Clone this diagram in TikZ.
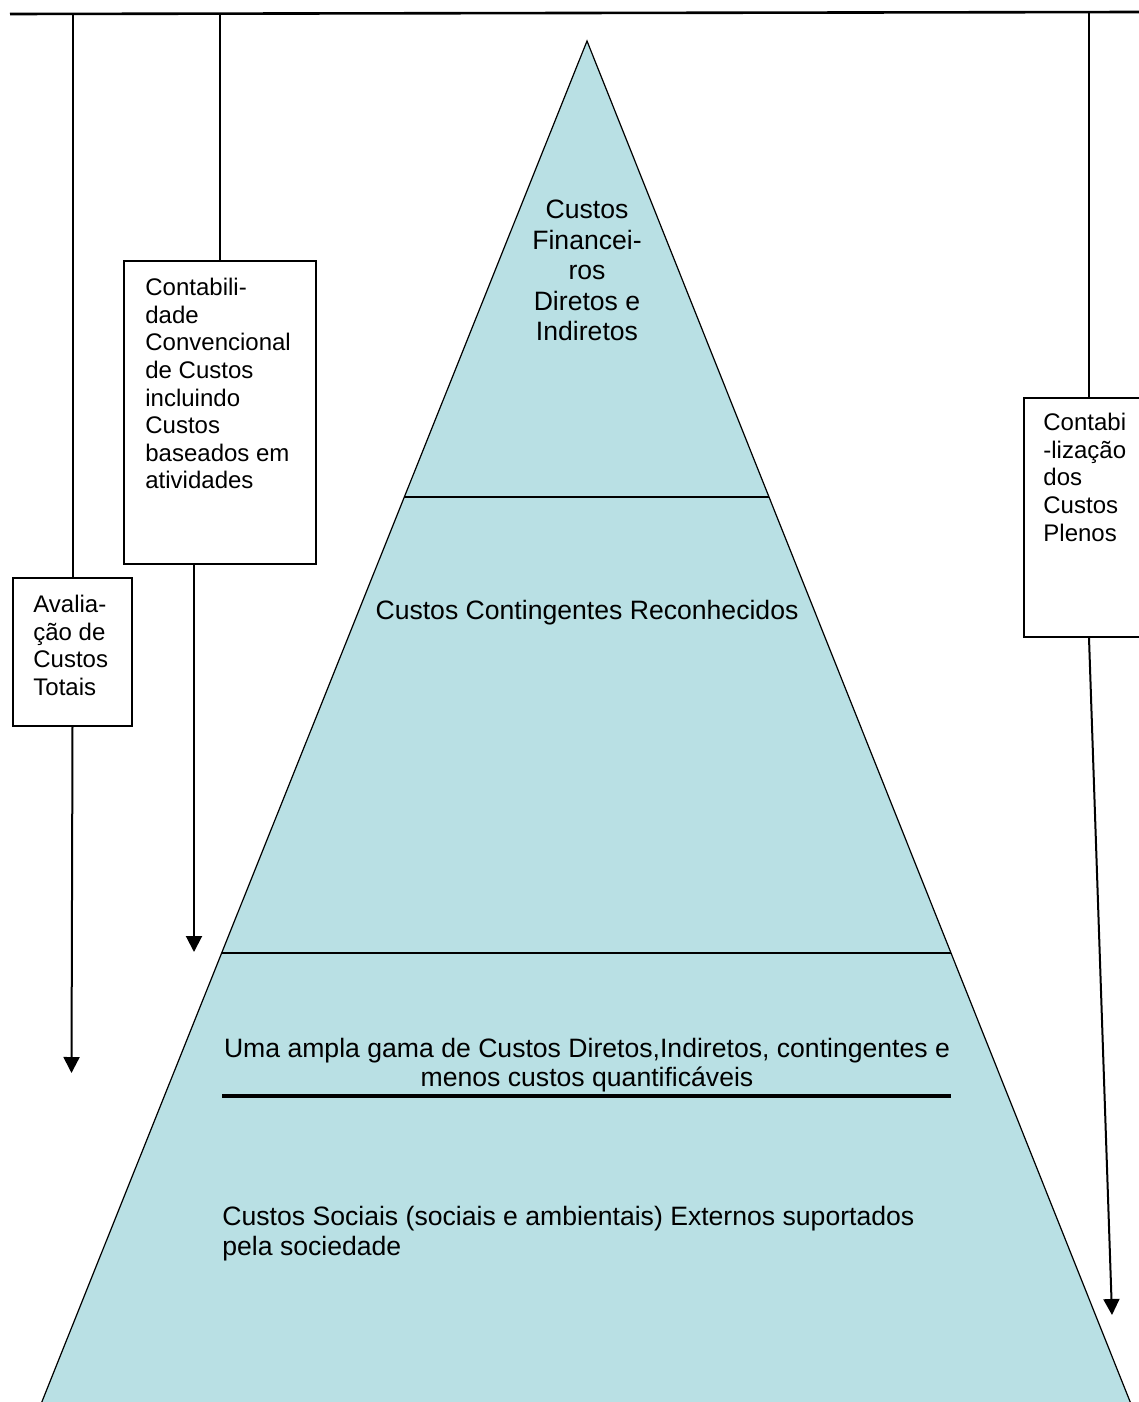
\documentclass[tikz,border=0pt]{standalone}
\usepackage{fontspec}
\setmainfont{Liberation Sans}
\usetikzlibrary{arrows.meta,calc}
\definecolor{pyrblue}{RGB}{185,224,228}

\begin{document}
\begin{tikzpicture}[x=0.5pt,y=-0.5pt,>={Triangle[width=8pt,length=8pt]},
  costbox/.style={draw,line width=1pt,anchor=north west,inner sep=0pt},
  boxtxt/.style={anchor=north west,align=left,inner sep=0pt,font=\fontsize{12}{13.8}\selectfont},
  pyrtxt/.style={anchor=north,align=center,inner sep=0pt,font=\fontsize{13.3}{15.1}\selectfont}]

\useasboundingbox (0,0) rectangle (1139,1402);

% pyramid
\coordinate (apex) at (587,41);
\coordinate (bl) at (41,1404);
\coordinate (br) at (1131,1404);
\filldraw[fill=pyrblue,line width=0.6pt] (bl) -- (apex) -- (br) -- cycle;
\coordinate (d1l) at ($(apex)!0.3346!(bl)$);
\coordinate (d1r) at ($(apex)!0.3346!(br)$);
\coordinate (d2l) at ($(apex)!0.6691!(bl)$);
\coordinate (d2r) at ($(apex)!0.6691!(br)$);
\draw[line width=0.6pt] (d1l) -- (d1r);
\draw[line width=0.6pt] (d2l) -- (d2r);
\coordinate (sl) at (222,1096);
\coordinate (sr) at (951,1096);
\draw[line width=2.2pt] (sl) -- (sr);

\node (fin) at (587,200)[pyrtxt,font=\fontsize{13.3}{15.25}\selectfont] {Custos\\Financei-\\ros\\Diretos e\\Indiretos};
\node (cont) at (587,600)[pyrtxt] {Custos Contingentes Reconhecidos};
\node (gama) at (587,1038)[pyrtxt,font=\fontsize{13.3}{14.5}\selectfont] {Uma ampla gama de Custos Diretos,Indiretos, contingentes e\\menos custos quantificáveis};
\node (soc) at (222,1206)[pyrtxt,anchor=north west,align=left] {Custos Sociais (sociais e ambientais) Externos suportados\\pela sociedade};

% boxes
\coordinate (tl) at (10,14);
\coordinate (tr) at (1139,12);
\draw[line width=1.3pt] (tl) -- (tr);

\node (tot) at (12,577)[costbox,minimum width=59.5pt,minimum height=74pt] {};
\node (totT) at (33,595)[boxtxt] {Avalia-\\ção de\\Custos\\Totais};
\node (conv) at (123,260)[costbox,minimum width=96pt,minimum height=151.5pt] {};
\node (convT) at (145,278)[boxtxt] {Contabili-\\dade\\Convencional\\de Custos\\incluindo\\Custos\\baseados em\\atividades};
\node (plen) at (1023,397)[costbox,minimum width=65pt,minimum height=119.5pt] {};
\node (plenT) at (1043,413)[boxtxt] {Contabi\\-lização\\dos\\Custos\\Plenos};

\coordinate (totEnd) at (71.5,1073);
\coordinate (convEnd) at (194,952);
\coordinate (plenEnd) at (1112,1315);

\draw[line width=1pt] (tot.north |- tl) -- (tot.north);
\draw[->,line width=1pt] (tot.south) -- (totEnd);
\draw[line width=1pt] (conv.north |- tl) -- (conv.north);
\draw[->,line width=1pt] (convEnd |- conv.south) -- (convEnd);
\draw[line width=1pt] (plen.north |- tr) -- (plen.north);
\draw[->,line width=1pt] (plen.south) -- (plenEnd);
\end{tikzpicture}
\end{document}
